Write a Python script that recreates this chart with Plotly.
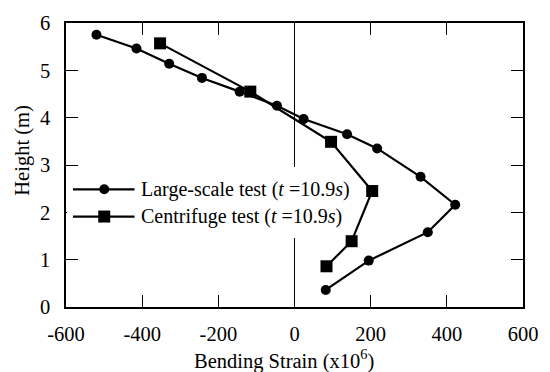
import plotly.graph_objects as go

# Large-scale test (circles)
large_strain = [-520, -415, -329, -243, -144, -46, 24, 138, 217, 331, 422, 350, 195, 82]
large_height = [5.75, 5.46, 5.14, 4.84, 4.55, 4.25, 3.97, 3.65, 3.35, 2.75, 2.16, 1.58, 0.98, 0.36]

# Centrifuge test (squares)
cent_strain = [-353, -116, 96, 204, 150, 84]
cent_height = [5.57, 4.55, 3.49, 2.45, 1.39, 0.86]

legend_labels = ["Large-scale test (<i>t</i> =10.9<i>s</i>)",
                 "Centrifuge test (<i>t</i> =10.9<i>s</i>)"]

x_ticks = [-600, -400, -200, 0, 200, 400, 600]
x_ticktext = ["-600", "-400", "-200", "0", "200", "400", "600"]
y_ticks = [0, 1, 2, 3, 4, 5, 6]
y_ticktext = ["0", "1", "2", "3", "4", "5", "6"]

FONT = "Times New Roman, Liberation Serif, serif"
FS = 20.5
FS_LEG = 20

fig = go.Figure()
fig.add_trace(go.Scatter(x=large_strain, y=large_height, mode="lines+markers",
                         line=dict(color="black", width=2.2),
                         marker=dict(symbol="circle", size=10, color="black"),
                         name=legend_labels[0], showlegend=False))
fig.add_trace(go.Scatter(x=cent_strain, y=cent_height, mode="lines+markers",
                         line=dict(color="black", width=2.2),
                         marker=dict(symbol="square", size=12, color="black"),
                         name=legend_labels[1], showlegend=False))

# plot area in pixels: x 66..526, y 15..307
L, R, T, B = 66, 526, 15, 307
def px(xp):
    return (xp - L) / (R - L)
def py(yp):
    return (B - yp) / (B - T)

shapes = []
annotations = []
# white legend background covering zero line
shapes.append(dict(type="rect", xref="paper", yref="paper", layer="above",
                   x0=px(67), x1=px(347), y0=py(236), y1=py(163),
                   fillcolor="white", line=dict(width=0)))
rows = [186, 214]
symbols = ["circle", "square"]
for i, yrow in enumerate(rows):
    shapes.append(dict(type="line", xref="paper", yref="paper", layer="above",
                       x0=px(73), x1=px(135), y0=py(yrow), y1=py(yrow),
                       line=dict(color="black", width=2.2)))
    if symbols[i] == "circle":
        shapes.append(dict(type="circle", xref="paper", yref="paper", layer="above",
                           xsizemode="pixel", ysizemode="pixel",
                           xanchor=px(104.5), yanchor=py(yrow),
                           x0=-5, x1=5, y0=-5, y1=5,
                           fillcolor="black", line=dict(width=0)))
    else:
        shapes.append(dict(type="rect", xref="paper", yref="paper", layer="above",
                           xsizemode="pixel", ysizemode="pixel",
                           xanchor=px(104.5), yanchor=py(yrow),
                           x0=-6, x1=6, y0=-6, y1=6,
                           fillcolor="black", line=dict(width=0)))
    annotations.append(dict(xref="paper", yref="paper", x=px(139), y=py(yrow),
                            xanchor="left", yanchor="middle", showarrow=False,
                            text=legend_labels[i],
                            font=dict(family=FONT, size=FS_LEG, color="black")))

# axis titles
annotations.append(dict(xref="paper", yref="paper", x=px(285), y=py(361),
                        xanchor="center", yanchor="middle", showarrow=False,
                        text="Bending Strain (x10<sup>6</sup>)",
                        font=dict(family=FONT, size=FS, color="black")))
annotations.append(dict(xref="paper", yref="paper", x=px(22), y=py(146),
                        xanchor="center", yanchor="middle", showarrow=False,
                        text="Height (m)", textangle=-90,
                        font=dict(family=FONT, size=FS, color="black")))

fig.update_layout(
    width=550, height=372,
    margin=dict(l=L, r=550 - R, t=T, b=372 - B),
    paper_bgcolor="white", plot_bgcolor="white",
    font=dict(family=FONT, size=FS, color="black"),
    shapes=shapes, annotations=annotations,
    showlegend=False,
)
fig.update_xaxes(range=[-600, 600], tickvals=x_ticks, ticktext=x_ticktext,
                 ticks="inside", ticklen=12, tickwidth=1, tickcolor="black",
                 showline=True, linecolor="black", linewidth=1.5, mirror="ticks",
                 showgrid=False, zeroline=True, zerolinecolor="black", zerolinewidth=1,
                 ticklabelstandoff=8,
                 tickfont=dict(family=FONT, size=FS, color="black"))
fig.update_yaxes(range=[0, 6], tickvals=y_ticks, ticktext=y_ticktext,
                 ticks="inside", ticklen=12, tickwidth=1, tickcolor="black",
                 showline=True, linecolor="black", linewidth=1.5, mirror="ticks",
                 showgrid=False, zeroline=False,
                 ticklabelstandoff=10,
                 tickfont=dict(family=FONT, size=FS, color="black"))

fig.write_html("out.html")
